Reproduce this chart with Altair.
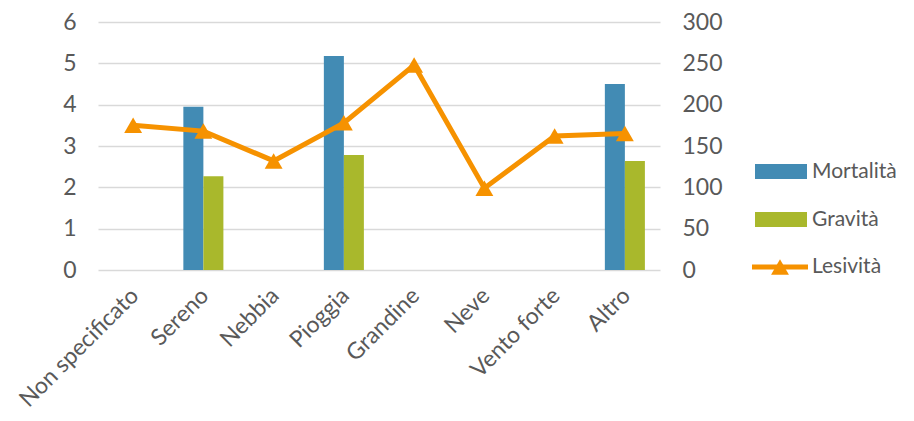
import altair as alt
import pandas as pd

categories = ["Non specificato", "Sereno", "Nebbia", "Pioggia", "Grandine", "Neve", "Vento forte", "Altro"]
mortalita = [None, 3.95, None, 5.18, None, None, None, 4.5]
gravita = [None, 2.27, None, 2.78, None, None, None, 2.64]
lesivita = [175, 168, 132, 178, 248, 99, 162, 165]
series_names = ["Mortalità", "Gravità", "Lesività"]
left_ticks = [0, 1, 2, 3, 4, 5, 6]
right_ticks = [0, 50, 100, 150, 200, 250, 300]

BLUE, GREEN, ORANGE = "#428bb4", "#a9b82c", "#f69200"
FONT = "Lato"
TXT = "#595959"

rows = []
for c, m, g in zip(categories, mortalita, gravita):
    if m is not None:
        rows.append({"cat": c, "series": "Mortalità", "val": m})
    if g is not None:
        rows.append({"cat": c, "series": "Gravità", "val": g})
bars_df = pd.DataFrame(rows)
line_df = pd.DataFrame({"cat": categories, "val": lesivita})
legend_df = pd.DataFrame({"name": series_names})

xscale = alt.Scale(domain=categories, paddingInner=0.43, paddingOuter=0.215)
xaxis = alt.Axis(labelAngle=-45, labelAlign="right", labelBaseline="top", labelFontSize=23,
                 labelColor=TXT, labelFont=FONT, ticks=False, domain=False, labelPadding=14,
                 labelOffset=-6, title=None, grid=False)

bars = alt.Chart(bars_df).mark_bar().encode(
    x=alt.X("cat:N", scale=xscale, axis=xaxis, sort=categories),
    xOffset=alt.XOffset("series:N", scale=alt.Scale(domain=["Mortalità", "Gravità"], paddingInner=0, paddingOuter=0)),
    y=alt.Y("val:Q", scale=alt.Scale(domain=[0, 6], nice=False),
            axis=alt.Axis(values=left_ticks, grid=True, gridColor="#d9d9d9", gridWidth=1.5,
                          domain=False, ticks=False, labelFontSize=23, labelColor=TXT,
                          labelFont=FONT, labelPadding=22, title=None)),
    color=alt.Color("series:N", scale=alt.Scale(domain=["Mortalità", "Gravità"], range=[BLUE, GREEN]), legend=None),
)

line = alt.Chart(line_df).mark_line(color=ORANGE, strokeWidth=5, point=alt.OverlayMarkDef(shape="triangle-up", size=320, color=ORANGE, filled=True, opacity=1)).encode(
    x=alt.X("cat:N", scale=xscale, axis=xaxis, sort=categories),
    y=alt.Y("val:Q", scale=alt.Scale(domain=[0, 300], nice=False),
            axis=alt.Axis(orient="right", values=right_ticks, grid=False, domain=False, ticks=False,
                          labelFontSize=23, labelColor=TXT, labelFont=FONT, labelPadding=22, title=None)),
)

# manual legend
def leg(name):
    return alt.Chart(legend_df).transform_filter(alt.datum.name == name)

def leg_text(name, y):
    return leg(name).mark_text(align="left", baseline="middle", fontSize=21, font=FONT, color=TXT).encode(
        x=alt.value(714), y=alt.value(y), text="name:N")

leg_m = leg("Mortalità").mark_rect(color=BLUE).encode(x=alt.value(657), x2=alt.value(709), y=alt.value(142), y2=alt.value(157))
leg_g = leg("Gravità").mark_rect(color=GREEN).encode(x=alt.value(657), x2=alt.value(709), y=alt.value(190), y2=alt.value(205))
leg_l = leg("Lesività").mark_rule(color=ORANGE, strokeWidth=5).encode(x=alt.value(654), x2=alt.value(710), y=alt.value(245))
leg_t = leg("Lesività").mark_point(shape="triangle-up", size=320, color=ORANGE, filled=True, opacity=1).encode(x=alt.value(682), y=alt.value(245))

chart = alt.layer(
    bars, line, leg_m, leg_g, leg_l, leg_t,
    leg_text("Mortalità", 150), leg_text("Gravità", 197.5), leg_text("Lesività", 245),
).resolve_scale(
    y="independent"
).properties(
    width=562, height=248,
    autosize=alt.AutoSizeParams(type="none"),
    padding={"left": 90, "top": 14, "right": 244, "bottom": 143},
).configure_view(stroke=None)

chart.save("out.html", embed_options={"renderer": "svg", "actions": False})
